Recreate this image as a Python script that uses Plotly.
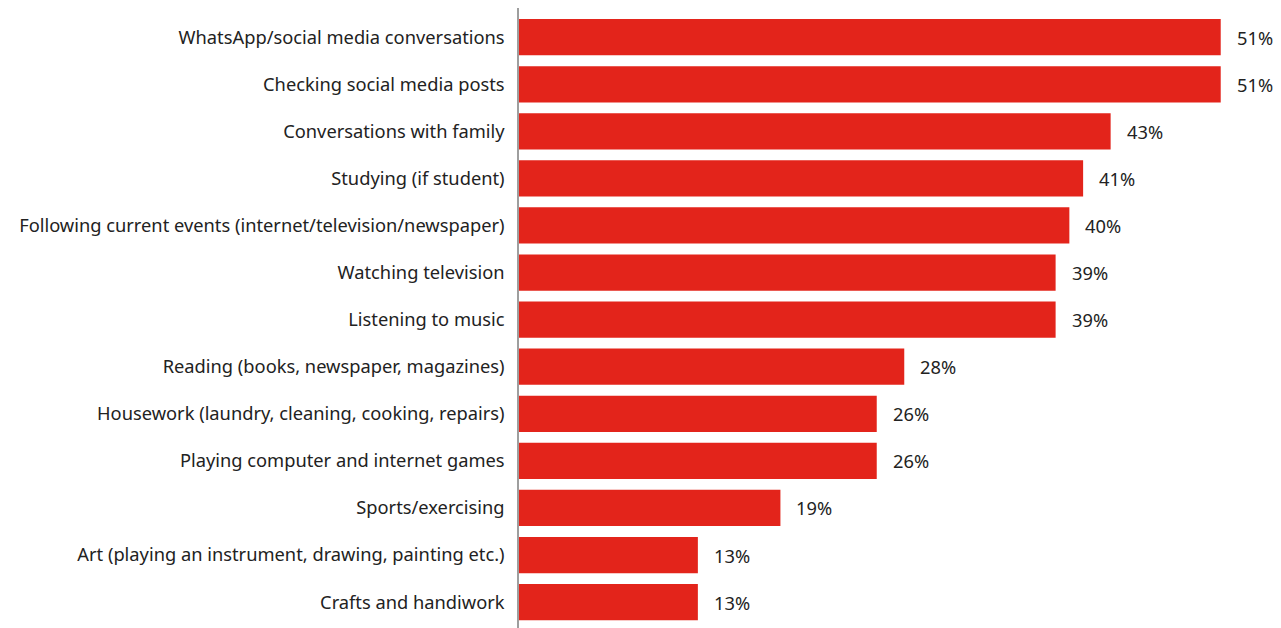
import plotly.graph_objects as go

categories = [
    "WhatsApp/social media conversations",
    "Checking social media posts",
    "Conversations with family",
    "Studying (if student)",
    "Following current events (internet/television/newspaper)",
    "Watching television",
    "Listening to music",
    "Reading (books, newspaper, magazines)",
    "Housework (laundry, cleaning, cooking, repairs)",
    "Playing computer and internet games",
    "Sports/exercising",
    "Art (playing an instrument, drawing, painting etc.)",
    "Crafts and handiwork",
]
values = [51, 51, 43, 41, 40, 39, 39, 28, 26, 26, 19, 13, 13]

RED = "#E3241B"
TEXT = "#222222"
FONT = "'Noto Sans', Roboto, sans-serif"
SIZE = 18.3

fig = go.Figure(
    go.Bar(
        x=values,
        y=categories,
        orientation="h",
        marker=dict(color=RED, line=dict(width=0)),
        width=0.77,
        hoverinfo="skip",
    )
)

# value labels placed just past the end of each bar
for cat, v in zip(categories, values):
    fig.add_annotation(
        x=v, y=cat, text=f"{v}%", showarrow=False,
        xanchor="left", yanchor="middle", xshift=14,
        font=dict(family=FONT, size=SIZE, color=TEXT),
    )

fig.update_layout(
    width=1281,
    height=628,
    margin=dict(l=519, r=8, t=8, b=0),
    paper_bgcolor="white",
    plot_bgcolor="white",
    showlegend=False,
    font=dict(family=FONT, size=SIZE, color=TEXT),
)
fig.update_xaxes(
    range=[0, 54.8],
    visible=False,
    showgrid=False,
    zeroline=False,
)
fig.update_yaxes(
    type="category",
    categoryorder="array",
    categoryarray=categories,
    range=[12.55, -0.62],
    showgrid=False,
    zeroline=False,
    showline=True,
    linecolor="#9e9e9e",
    linewidth=1.5,
    ticks="",
    ticklabelstandoff=9,
    tickfont=dict(family=FONT, size=SIZE, color=TEXT),
)

fig.write_html("out.html")
